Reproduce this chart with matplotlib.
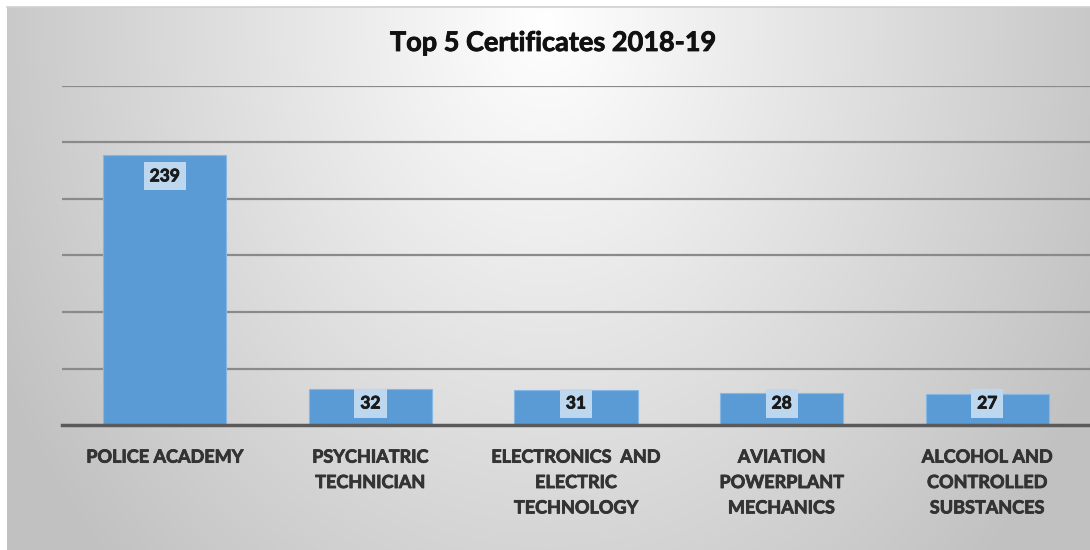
import numpy as np
from matplotlib import pyplot as plt
import matplotlib.patheffects as pe

categories = ["POLICE ACADEMY", "PSYCHIATRIC\nTECHNICIAN", "ELECTRONICS  AND\nELECTRIC\nTECHNOLOGY",
              "AVIATION\nPOWERPLANT\nMECHANICS", "ALCOHOL AND\nCONTROLLED\nSUBSTANCES"]
counts = [239, 32, 31, 28, 27]
grid_values = [50, 100, 150, 200, 250, 300]

plt.rcParams['font.family'] = ['Lato', 'DejaVu Sans']

W, H = 1090, 550
fig = plt.figure(figsize=(W / 100, H / 100), dpi=100)
fig.patch.set_facecolor("white")

# gradient background of the chart area
bg = fig.add_axes([7 / W, 0, 1 - 7 / W, 1 - 7 / H], zorder=0)
yy, xx = np.mgrid[0:H - 7, 0:W - 7]
d = np.sqrt(((xx - 538) / 560.0) ** 2 + ((yy - 15) / 700.0) ** 2)
shade = np.clip(1 - 0.22 * d, 0.76, 1)
bg.imshow(np.dstack([shade] * 3), aspect="auto", interpolation="bilinear")
bg.axis("off")
fig.add_artist(plt.Line2D([7 / W, 1], [1 - 7 / H] * 2, color="#d0d0d0", lw=1.2))

ax = fig.add_axes([62 / W, 1 - 425 / H, 1 - 62 / W, (425 - 86) / H], zorder=1)
ax.patch.set_alpha(0)

x = np.arange(len(categories))
ax.bar(x, counts, width=0.6, color="#5B9BD5", edgecolor="#86b6e3", linewidth=0.8, zorder=3)

for v in grid_values:
    ax.axhline(v, color="#8a8a8a", lw=1.6, zorder=1)

thick = lambda c: [pe.withStroke(linewidth=0.6, foreground=c)]

for xi, v in zip(x, counts):
    ax.text(xi, max(v - 19, 19), str(v), ha="center", va="center", fontsize=12.5,
            fontweight="bold", color="#1a1a1a", zorder=4, path_effects=thick("#1a1a1a"),
            bbox=dict(boxstyle="square,pad=0.35", facecolor="#BDD7EE", edgecolor="none"))

ax.set_xlim(-0.5, len(categories) - 0.5)
ax.set_ylim(0, 300)
ax.set_yticks([])
ax.set_xticks(x)
ax.set_xticklabels(categories, fontsize=13, fontweight="bold", color="#333333", linespacing=1.6)
for lbl in ax.get_xticklabels():
    lbl.set_path_effects(thick("#333333"))
ax.tick_params(axis="x", length=0, pad=17)
for s in ["top", "right", "left"]:
    ax.spines[s].set_visible(False)
ax.spines["bottom"].set_color("#5a5a5a")
ax.spines["bottom"].set_linewidth(2.5)
ax.spines["bottom"].set_zorder(5)

fig.text(553 / W, 1 - 43 / H, "Top 5 Certificates 2018-19", ha="center", va="center",
         fontsize=19.5, fontweight="bold", color="#111111", path_effects=thick("#111111"))

fig.savefig("out.png", dpi=100)
